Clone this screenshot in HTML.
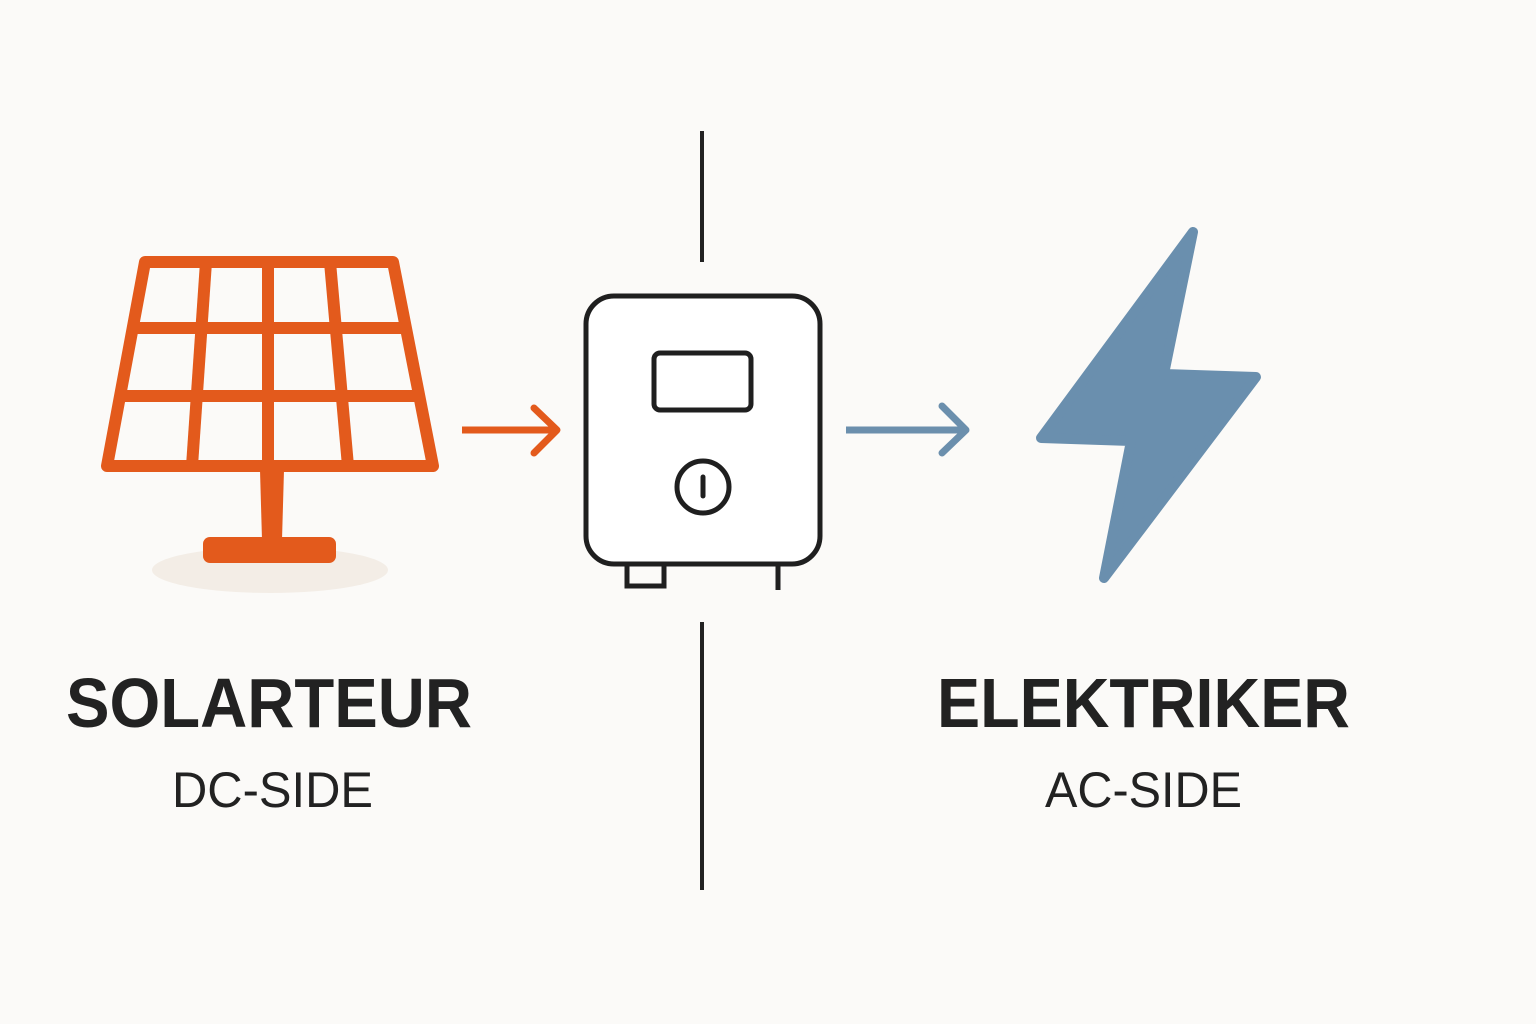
<!DOCTYPE html>
<html><head><meta charset="utf-8"><style>
html,body{margin:0;padding:0;background:#fbfaf8;}
svg{display:block}
</style></head><body>
<svg width="1536" height="1024" viewBox="0 0 1536 1024" xmlns="http://www.w3.org/2000/svg">
<rect width="1536" height="1024" fill="#fbfaf8"/>
<!-- divider -->
<line x1="702" y1="131" x2="702" y2="262" stroke="#222" stroke-width="4"/>
<line x1="702" y1="622" x2="702" y2="890" stroke="#222" stroke-width="4"/>
<!-- solar panel -->
<ellipse cx="270" cy="570" rx="118" ry="23" fill="#f3ede6"/>
<g stroke="#e35a1c" stroke-width="12" fill="none" stroke-linejoin="round">
<polygon points="145,262 393,262 433,466 107,466"/>
<line x1="129" y1="328" x2="406" y2="328"/>
<line x1="118" y1="396" x2="419" y2="396"/>
<line x1="206" y1="262" x2="192" y2="466"/>
<line x1="268" y1="262" x2="268" y2="466"/>
<line x1="330" y1="262" x2="348" y2="466"/>
</g>
<path d="M260,470 L284,470 L282,540 L262,540 Z" fill="#e35a1c"/>
<rect x="203" y="537" width="133" height="26" rx="7" fill="#e35a1c"/>
<!-- orange arrow -->
<g stroke="#e35a1c" stroke-width="7" fill="none" stroke-linecap="round" stroke-linejoin="round">
<line x1="462" y1="430" x2="555" y2="430" stroke-linecap="butt"/>
<polyline points="534,408 557,430 534,453"/>
</g>
<!-- inverter -->
<g stroke="#1f1f1f" stroke-width="5" fill="none">
<rect x="586" y="296" width="234" height="268" rx="28" fill="#fff"/>
<rect x="654" y="353" width="97" height="57" rx="6"/>
<circle cx="703" cy="487" r="26"/>
<line x1="703" y1="477" x2="703" y2="496" stroke-linecap="round" stroke-width="5"/>
<path d="M627,566 V586 H664 V566"/>
<line x1="778" y1="566" x2="778" y2="590"/>
</g>
<!-- blue arrow -->
<g stroke="#6b8fad" stroke-width="7" fill="none" stroke-linecap="round" stroke-linejoin="round">
<line x1="846" y1="430" x2="965" y2="430" stroke-linecap="butt"/>
<polyline points="942,406 966,430 942,453"/>
</g>
<!-- bolt -->
<polygon points="1193,232 1164,374 1256,377 1104,578 1131,441 1041,438" fill="#6a8fae" stroke="#6a8fae" stroke-width="10" stroke-linejoin="round"/>
<!-- text -->
<g font-family="Liberation Sans, sans-serif" fill="#222">
<text x="66" y="727" font-size="70" font-weight="bold" textLength="406" lengthAdjust="spacingAndGlyphs">SOLARTEUR</text>
<text x="172" y="807" font-size="50" textLength="201" lengthAdjust="spacingAndGlyphs">DC-SIDE</text>
<text x="937" y="727" font-size="70" font-weight="bold" textLength="413" lengthAdjust="spacingAndGlyphs">ELEKTRIKER</text>
<text x="1045" y="807" font-size="50" textLength="197" lengthAdjust="spacingAndGlyphs">AC-SIDE</text>
</g>
</svg>
</body></html>
